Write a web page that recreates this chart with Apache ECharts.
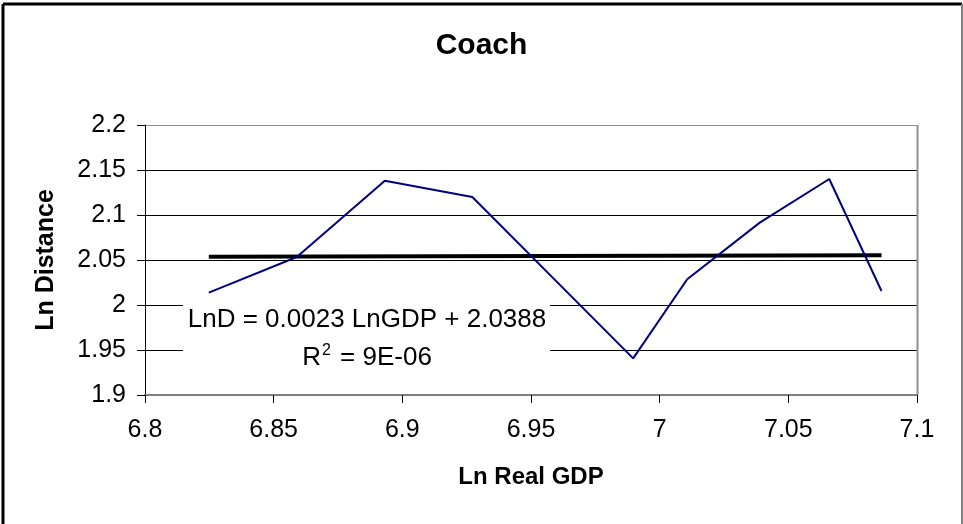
<!DOCTYPE html>
<html>
<head>
<meta charset="utf-8">
<script src="https://cdn.jsdelivr.net/npm/echarts@6/dist/echarts.min.js"></script>
<style>
html,body{margin:0;padding:0;background:#fff;}
#chart{width:963px;height:524px;}
</style>
</head>
<body>
<div id="chart"></div>
<script>
// Data
const lnGDP = [6.8248, 6.859, 6.8932, 6.9272, 6.9897, 7.0107, 7.0389, 7.0659, 7.0862];
const lnDistance = [2.0137, 2.0533, 2.1381, 2.12, 1.9407, 2.0286, 2.0915, 2.14, 2.0156];
const trendX = [6.8248, 7.0862];
const trendY = [2.0535, 2.0552];
const xTickLabels = ['6.8', '6.85', '6.9', '6.95', '7', '7.05', '7.1'];
const yTickLabels = ['1.9', '1.95', '2', '2.05', '2.1', '2.15', '2.2'];
const equationLine1 = 'LnD = 0.0023 LnGDP + 2.0388';
const equationLine2 = ['R', '2', ' = 9E-06'];
const titleText = 'Coach';
const xName = 'Ln Real GDP';
const yName = 'Ln Distance';

const FONT = "'Liberation Sans', Arial, sans-serif";
const chart = echarts.init(document.getElementById('chart'), null, {renderer: 'canvas'});

const seriesData = lnGDP.map((x, i) => [x, lnDistance[i]]);
const trendData = trendX.map((x, i) => [x, trendY[i]]);

chart.setOption({
  animation: false,
  backgroundColor: '#fff',
  title: {
    text: titleText, left: 'center', top: 26,
    textStyle: {fontFamily: FONT, fontSize: 30, fontWeight: 'bold', color: '#000'}
  },
  grid: {left: 145, right: 46, top: 125, bottom: 129, show: false},
  xAxis: {
    type: 'value', min: 6.8, max: 7.1, interval: 0.05,
    name: xName, nameLocation: 'middle', nameGap: 70,
    nameTextStyle: {fontFamily: FONT, fontSize: 24, fontWeight: 'bold', color: '#000'},
    axisLine: {show: true, onZero: false, lineStyle: {color: '#808080', width: 2}},
    axisTick: {show: true, inside: false, length: 8, lineStyle: {color: '#000'}},
    axisLabel: {
      margin: 23, fontFamily: FONT, fontSize: 25, color: '#000',
      formatter: (v, i) => xTickLabels[i]
    },
    splitLine: {show: false}
  },
  yAxis: {
    type: 'value', min: 1.9, max: 2.2, interval: 0.05,
    name: yName, nameLocation: 'middle', nameGap: 86, nameRotate: 90,
    nameTextStyle: {fontFamily: FONT, fontSize: 25, fontWeight: 'bold', color: '#000'},
    axisLine: {show: true, onZero: false, lineStyle: {color: '#000', width: 1}},
    axisTick: {show: true, inside: false, length: 8, lineStyle: {color: '#000'}},
    axisLabel: {
      margin: 19, fontFamily: FONT, fontSize: 25, color: '#000',
      formatter: (v, i) => yTickLabels[i]
    },
    splitLine: {show: true, lineStyle: {color: ['#808080', '#000', '#000', '#000', '#000', '#000', '#909090'], width: 1}}
  },
  series: [
    {
      type: 'line', data: seriesData, symbol: 'none',
      lineStyle: {color: '#000080', width: 2}, z: 3
    },
    {
      type: 'line', data: trendData, symbol: 'none',
      lineStyle: {color: '#000', width: 4}, z: 2
    }
  ],
  graphic: [
    {type: 'line', shape: {x1: 917.5, y1: 125, x2: 917.5, y2: 395}, style: {stroke: '#909090', lineWidth: 2}, z: 1},
    {type: 'line', shape: {x1: 3, y1: 4, x2: 3, y2: 524}, style: {stroke: '#000', lineWidth: 3}},
    {type: 'line', shape: {x1: 3, y1: 4, x2: 962, y2: 4}, style: {stroke: '#000', lineWidth: 3}},
    {type: 'line', shape: {x1: 962, y1: 4, x2: 962, y2: 524}, style: {stroke: '#808080', lineWidth: 2}},
    {type: 'rect', shape: {x: 183, y: 297, width: 367, height: 78}, style: {fill: '#fff'}, z: 10},
    {type: 'text', x: 367, y: 320, z: 11,
      style: {text: equationLine1, font: '26px ' + FONT, fill: '#000', textAlign: 'center', textVerticalAlign: 'middle'}},
    {type: 'text', x: 367, y: 358, z: 11,
      style: {
        text: '{a|' + equationLine2[0] + '}{s|' + equationLine2[1] + '}{a|' + equationLine2[2] + '}',
        textAlign: 'center', textVerticalAlign: 'middle',
        rich: {
          a: {fontFamily: FONT, fontSize: 26, fill: '#000', lineHeight: 30},
          s: {fontFamily: FONT, fontSize: 16, fill: '#000', lineHeight: 16, verticalAlign: 'top', padding: [0, 2, 0, 1]}
        }
      }}
  ]
});
</script>
</body>
</html>
